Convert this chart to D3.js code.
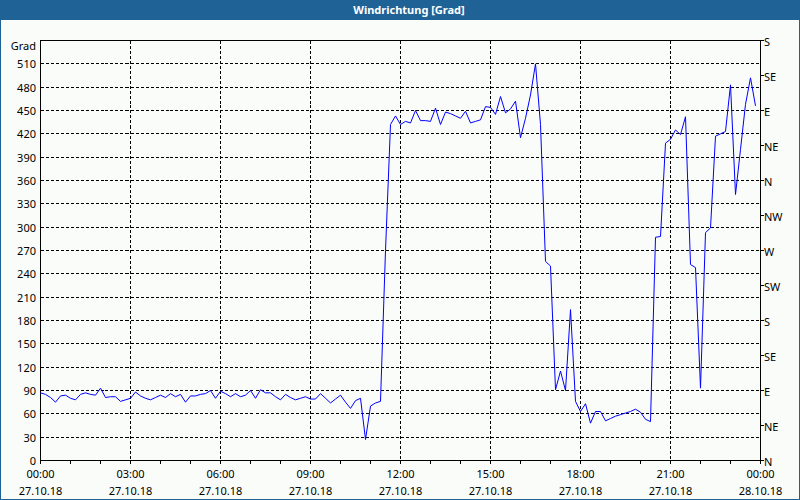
<!DOCTYPE html>
<html>
<head>
<meta charset="utf-8">
<script src="https://cdn.jsdelivr.net/npm/d3@7/dist/d3.min.js"></script>
<style>
  html, body { margin: 0; padding: 0; background: #fafcfa; }
  svg { display: block; }
  text { font-family: "Noto Sans", "Liberation Sans", sans-serif; font-size: 11px; fill: #000; }
</style>
</head>
<body>
<svg id="chart" width="800" height="500"></svg>
<script>
var width = 800; // size of the picture
var height = 500;

// chart title and axis captions
var title = "Windrichtung [Grad]";
var yUnit = "Grad";

// first sample and spacing of the samples (10 minutes)
var startTime = new Date(2018, 9, 27, 0, 0);
var endTime = new Date(2018, 9, 28, 0, 0);
var stepMinutes = 10;

// wind direction in degrees, one value per 10 minutes (00:00 .. 23:50)
var values = [
    87, 85, 81, 75, 83, 84, 80, 78, 85, 87, 85, 84, 93, 81, 82, 82, 76, 78,
    80, 88, 83, 80, 78, 81, 84, 81, 86, 82, 85, 75, 83, 83, 85, 86, 90, 80,
    89, 86, 82, 86, 82, 84, 90, 80, 91, 87, 87, 82, 78, 85, 81, 78, 80, 82,
    79, 79, 86, 80, 74, 79, 84, 75, 67, 77, 80, 27, 70, 74, 76, 270, 432, 443,
    432, 436, 434, 450, 437, 437, 436, 453, 432, 448, 446, 443, 440, 449, 434, 436,
    438, 455, 454, 445, 468, 447, 452, 462, 415, 440, 470, 510, 432, 256, 250, 91,
    115, 90, 194, 76, 63, 73, 48, 63, 63, 51, 54, 57, 59, 61, 63, 66, 62, 53,
    50, 287, 288, 408, 413, 425, 419, 442, 252, 248, 93, 293, 299, 417, 420, 423,
    483, 342, 400, 458, 492, 456
];

// left axis ticks (degrees) and right axis compass labels
var yTicks = [0, 30, 60, 90, 120, 150, 180, 210, 240, 270, 300, 330, 360, 390, 420, 450, 480, 510];
var compassTicks = [0, 45, 90, 135, 180, 225, 270, 315, 360, 405, 450, 495, 540];
var compassLabels = ["N", "NE", "E", "SE", "S", "SW", "W", "NW", "N", "NE", "E", "SE", "S"];
var yMax = 540;

var blue = "#1f6396";
var plotLeft = 40, plotRight = 760, plotTop = 40, plotBottom = 460;

var svg = d3.select("#chart");

// title bar and frame
svg.append("rect").attr("x", 0).attr("y", 0).attr("width", width).attr("height", 20).attr("fill", blue);
svg.append("rect")
    .attr("x", 0.5).attr("y", 0.5).attr("width", width - 1).attr("height", height - 1)
    .attr("fill", "none").attr("stroke", blue);
svg.append("text")
    .attr("x", 409).attr("y", 14)
    .attr("text-anchor", "middle")
    .style("fill", "#fff").style("font-weight", "bold")
    .text(title);

var x = d3.scaleTime().domain([startTime, endTime]).range([plotLeft, plotRight]);
var y = d3.scaleLinear().domain([0, yMax]).range([plotBottom, plotTop]);

var data = values.map(function (v, i) {
    return { t: d3.timeMinute.offset(startTime, i * stepMinutes), v: v };
});

var g = svg.append("g").attr("transform", "translate(0.5,0.5)");

// horizontal dashed grid
g.selectAll("line.hgrid")
    .data(yTicks.filter(function (d) { return d > 0; }))
    .enter().append("line")
    .attr("x1", plotLeft).attr("x2", plotRight)
    .attr("y1", function (d) { return Math.round(y(d)); })
    .attr("y2", function (d) { return Math.round(y(d)); })
    .attr("stroke", "#000").attr("stroke-dasharray", "3,2")
    .attr("shape-rendering", "crispEdges");

// vertical dashed grid every 3 hours
var majorTimes = d3.timeHour.every(3).range(startTime, d3.timeMinute.offset(endTime, 1));
g.selectAll("line.vgrid")
    .data(majorTimes.slice(1, -1))
    .enter().append("line")
    .attr("x1", function (d) { return x(d); }).attr("x2", function (d) { return x(d); })
    .attr("y1", plotTop).attr("y2", plotBottom)
    .attr("stroke", "#000").attr("stroke-dasharray", "3,2")
    .attr("shape-rendering", "crispEdges");

// frame of the plot area
g.append("rect")
    .attr("x", plotLeft).attr("y", plotTop)
    .attr("width", plotRight - plotLeft).attr("height", plotBottom - plotTop)
    .attr("fill", "none").attr("stroke", "#000").attr("shape-rendering", "crispEdges");

// hourly ticks under the time axis
g.selectAll("line.xtick")
    .data(d3.timeHour.every(1).range(startTime, d3.timeMinute.offset(endTime, 1)))
    .enter().append("line")
    .attr("x1", function (d) { return x(d); }).attr("x2", function (d) { return x(d); })
    .attr("y1", plotBottom).attr("y2", plotBottom + 3)
    .attr("stroke", "#000").attr("shape-rendering", "crispEdges");

// time labels (two lines)
var fmtTime = d3.timeFormat("%H:%M");
var fmtDate = d3.timeFormat("%d.%m.%y");
var xl = svg.selectAll("text.xlab")
    .data(majorTimes)
    .enter().append("text")
    .attr("text-anchor", "middle")
    .attr("x", function (d) { return x(d) + 0.5; });
xl.append("tspan").attr("y", 478).text(function (d) { return fmtTime(d); });
xl.append("tspan").attr("x", function (d) { return x(d) + 0.5; }).attr("y", 495).text(function (d) { return fmtDate(d); });

// left degree labels
svg.selectAll("text.ylab")
    .data(yTicks)
    .enter().append("text")
    .attr("text-anchor", "end")
    .attr("x", 36)
    .attr("y", function (d) { return Math.round(y(d)) + 5; })
    .text(function (d) { return d; });
svg.append("text").attr("text-anchor", "end").attr("x", 36).attr("y", 50).text(yUnit);

// right compass ticks and labels
g.selectAll("line.ctick")
    .data(compassTicks)
    .enter().append("line")
    .attr("x1", plotRight).attr("x2", plotRight + 3)
    .attr("y1", function (d) { return Math.round(y(d)); })
    .attr("y2", function (d) { return Math.round(y(d)); })
    .attr("stroke", "#000").attr("shape-rendering", "crispEdges");
svg.selectAll("text.clab")
    .data(compassTicks)
    .enter().append("text")
    .attr("x", 764)
    .attr("y", function (d) { return Math.round(y(d)) + 6; })
    .text(function (d, i) { return compassLabels[i]; });

// the wind direction line
var line = d3.line()
    .x(function (d) { return x(d.t); })
    .y(function (d) { return y(d.v); });

g.append("path")
    .datum(data)
    .attr("d", line)
    .attr("fill", "none")
    .attr("stroke", "#0000ff")
    .attr("stroke-width", 1);
</script>
</body>
</html>
